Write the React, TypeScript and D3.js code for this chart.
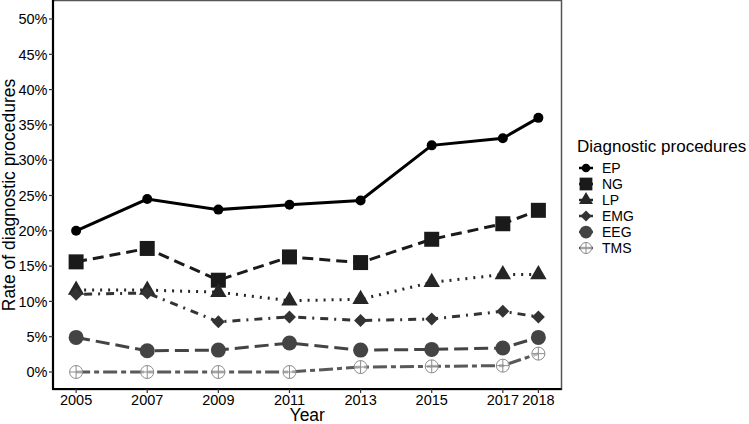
import React from "react";
import * as d3 from "d3";

const years = [2005, 2007, 2009, 2011, 2013, 2015, 2017, 2018];
const yTicks = [0, 5, 10, 15, 20, 25, 30, 35, 40, 45, 50];

const epRate = [20.0, 24.5, 23.0, 23.7, 24.3, 32.1, 33.1, 36.0];
const ngRate = [15.6, 17.5, 13.0, 16.3, 15.5, 18.8, 21.0, 22.9];
const lpRate = [11.6, 11.6, 11.3, 10.1, 10.3, 12.7, 13.8, 13.8];
const emgRate = [11.0, 11.2, 7.1, 7.8, 7.3, 7.5, 8.6, 7.8];
const eegRate = [4.9, 3.0, 3.1, 4.1, 3.1, 3.2, 3.4, 4.9];
const tmsRate = [0, 0, 0, 0, 0.7, 0.8, 0.9, 2.6];

type Shape = "dot" | "square" | "triangle" | "diamond" | "circle" | "plus";

const series: { name: string; values: number[]; color: string; dash: string; shape: Shape }[] = [
  { name: "EP", values: epRate, color: "#000000", dash: "", shape: "dot" },
  { name: "NG", values: ngRate, color: "#1a1a1a", dash: "11 6", shape: "square" },
  { name: "LP", values: lpRate, color: "#262626", dash: "2 6", shape: "triangle" },
  { name: "EMG", values: emgRate, color: "#333333", dash: "2 6 8 6", shape: "diamond" },
  { name: "EEG", values: eegRate, color: "#444444", dash: "14 6", shape: "circle" },
  { name: "TMS", values: tmsRate, color: "#595959", dash: "14 4 5 4", shape: "plus" },
];

const W = 749;
const H = 424;
const left = 53;
const right = 561.5;
const top = 0;
const bottom = 389;

const font = "'Liberation Sans', Arial, Helvetica, sans-serif";

function Marker({ shape, cx, cy, color, scale = 1 }: { shape: Shape; cx: number; cy: number; color: string; scale?: number }) {
  const s = scale;
  if (shape === "dot") return <circle cx={cx} cy={cy} r={5 * s} fill={color} />;
  if (shape === "square") {
    const h = 7.5 * s;
    return <rect x={cx - h} y={cy - h} width={2 * h} height={2 * h} fill={color} />;
  }
  if (shape === "triangle") {
    const r = 9.5 * s;
    const pts = [
      [cx, cy - r],
      [cx + r * 0.866, cy + r * 0.5],
      [cx - r * 0.866, cy + r * 0.5],
    ];
    return <polygon points={pts.map((p) => p.join(",")).join(" ")} fill={color} />;
  }
  if (shape === "diamond") {
    const r = 6.5 * s;
    const pts = [
      [cx, cy - r],
      [cx + r, cy],
      [cx, cy + r],
      [cx - r, cy],
    ];
    return <polygon points={pts.map((p) => p.join(",")).join(" ")} fill={color} />;
  }
  if (shape === "circle") return <circle cx={cx} cy={cy} r={7.5 * s} fill={color} />;
  const r = 6.5 * s;
  return (
    <g stroke="#8c8c8c" strokeWidth={1} fill="none">
      <circle cx={cx} cy={cy} r={r} fill="#ffffff" fillOpacity={0.6} />
      <line x1={cx - r} x2={cx + r} y1={cy} y2={cy} />
      <line x1={cx} x2={cx} y1={cy - r} y2={cy + r} />
    </g>
  );
}

export default function App() {
  const x = d3.scaleLinear().domain([2004.35, 2018.65]).range([left, right]);
  const y = d3.scaleLinear().domain([0, 50]).range([372, 19]);

  const line = d3
    .line<number>()
    .x((_, i) => x(years[i]))
    .y((d) => y(d));

  const legendX = 586;
  const legendY0 = 168;
  const legendStep = 16;

  return (
    <svg width={W} height={H} style={{ position: "absolute", left: 0, top: 0, background: "#fff" }} fontFamily={font}>
      <rect x={0} y={0} width={W} height={H} fill="#ffffff" />
      {/* panel border */}
      <rect x={left} y={top + 0.5} width={right - left} height={bottom - top} fill="none" stroke="#555555" strokeWidth={1.5} />
      {/* series */}
      {series.map((s) => (
        <path
          key={s.name}
          d={line(s.values) || ""}
          fill="none"
          stroke={s.color}
          strokeWidth={3}
          strokeDasharray={s.dash || undefined}
        />
      ))}
      {series.map((s) =>
        s.values.map((v, i) => (
          <Marker key={s.name + i} shape={s.shape} cx={x(years[i])} cy={y(v)} color={s.color} />
        ))
      )}
      {/* axes */}
      <line x1={left} x2={left} y1={top} y2={bottom} stroke="#000" strokeWidth={2.2} />
      <line x1={left - 1} x2={right} y1={bottom} y2={bottom} stroke="#000" strokeWidth={2.2} />
      {yTicks.map((t) => (
        <g key={t}>
          <line x1={left - 4} x2={left} y1={y(t)} y2={y(t)} stroke="#333" strokeWidth={1.2} />
          <text x={left - 5.5} y={y(t)} dy="0.36em" textAnchor="end" fontSize={14.5} fill="#000">
            {t}%
          </text>
        </g>
      ))}
      {years.map((yr) => (
        <g key={yr}>
          <line x1={x(yr)} x2={x(yr)} y1={bottom} y2={bottom + 4} stroke="#333" strokeWidth={1.2} />
          <text x={x(yr)} y={405} textAnchor="middle" fontSize={14.5} fill="#000">
            {yr}
          </text>
        </g>
      ))}
      <text x={(left + right) / 2} y={421} textAnchor="middle" fontSize={17.5} fill="#000">
        Year
      </text>
      <text
        transform={`translate(15, 195) rotate(-90)`}
        textAnchor="middle"
        fontSize={17.5}
        fill="#000"
      >
        Rate of diagnostic procedures
      </text>
      {/* legend */}
      <text x={577} y={152} fontSize={17} fill="#000">
        Diagnostic procedures
      </text>
      {series.map((s, i) => {
        const cy = legendY0 + i * legendStep;
        return (
          <g key={s.name}>
            <line x1={legendX - 7} x2={legendX + 7} y1={cy} y2={cy} stroke={s.color} strokeWidth={2.5} />
            <Marker shape={s.shape} cx={legendX} cy={cy} color={s.color} scale={0.85} />
            <text x={602} y={cy} dy="0.36em" fontSize={14} fill="#000">
              {s.name}
            </text>
          </g>
        );
      })}
    </svg>
  );
}
